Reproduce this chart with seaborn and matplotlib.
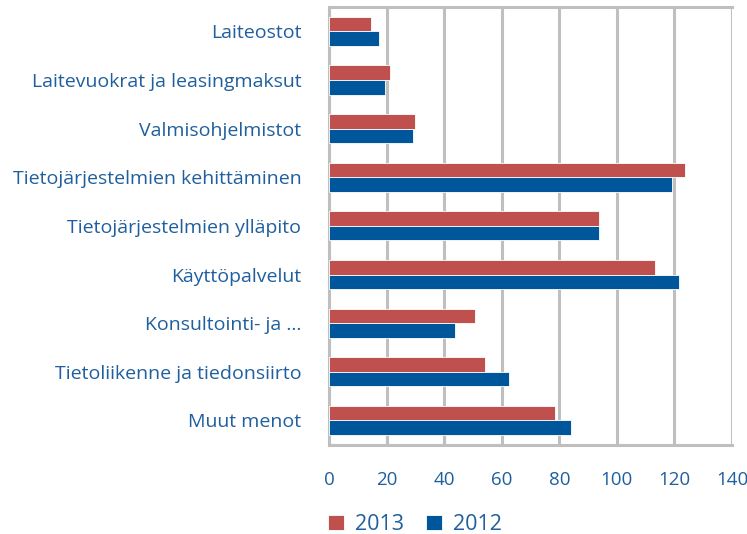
import numpy as np
import pandas as pd
import matplotlib.pyplot as plt
import seaborn as sns

# Data
kategoriat = ["Laiteostot", "Laitevuokrat ja leasingmaksut", "Valmisohjelmistot",
              "Tietojärjestelmien kehittäminen", "Tietojärjestelmien ylläpito",
              "Käyttöpalvelut", "Konsultointi- ja …", "Tietoliikenne ja tiedonsiirto",
              "Muut menot"]
arvot_2013 = [14.4, 21.3, 29.7, 123.8, 93.8, 113.3, 50.7, 54.2, 78.5]
arvot_2012 = [17.2, 19.3, 29.0, 119.0, 93.8, 121.7, 43.6, 62.5, 84.1]
vuodet = ["2013", "2012"]
xticks = [0, 20, 40, 60, 80, 100, 120, 140]

df = pd.DataFrame({
    "Kategoria": kategoriat * 2,
    "Arvo": arvot_2013 + arvot_2012,
    "Vuosi": ["2013"] * len(kategoriat) + ["2012"] * len(kategoriat),
})

sns.set_style("white")
plt.rcParams["font.family"] = ["Open Sans", "DejaVu Sans"]

teksti = "#1F5F9E"
harmaa = "#BFBFBF"
varit = {"2013": "#C0504D", "2012": "#00569A"}

fig = plt.figure(figsize=(7.47, 5.34), dpi=100)
ax = fig.add_axes([0.4405, 0.167, 0.5395, 0.82])

sns.barplot(data=df, y="Kategoria", x="Arvo", hue="Vuosi", hue_order=vuodet,
            order=kategoriat, palette=varit, saturation=1, width=0.6, ax=ax,
            edgecolor="white", linewidth=0.6, zorder=3)

ax.set_xlim(0, 140)
ax.set_ylim(len(kategoriat) - 0.5, -0.5)
ax.set_xticks(xticks)
ax.xaxis.grid(True, color=harmaa, linewidth=2.2, zorder=0)
ax.set_axisbelow(True)
for s in ax.spines.values():
    s.set_color(harmaa)
    s.set_linewidth(2.2)
ax.spines["right"].set_visible(False)

ax.tick_params(axis="x", colors=harmaa, length=7, width=2, direction="out",
               labelcolor=teksti, labelsize=13.5, pad=12)
ax.tick_params(axis="y", which="major", length=0, labelcolor=teksti,
               labelsize=14, pad=20)
ax.set_yticks(np.arange(-0.5, len(kategoriat), 1), minor=True)
ax.tick_params(axis="y", which="minor", colors=harmaa, length=9, width=2)
ax.set_xlabel("")
ax.set_ylabel("")

ax.legend(loc="lower left", bbox_to_anchor=(-0.05, -0.25), ncol=2, frameon=False,
          fontsize=15.5, labelcolor=teksti, handlelength=0.75, handleheight=0.75,
          columnspacing=1.0, handletextpad=0.5)

plt.savefig("out.png", dpi=100)
